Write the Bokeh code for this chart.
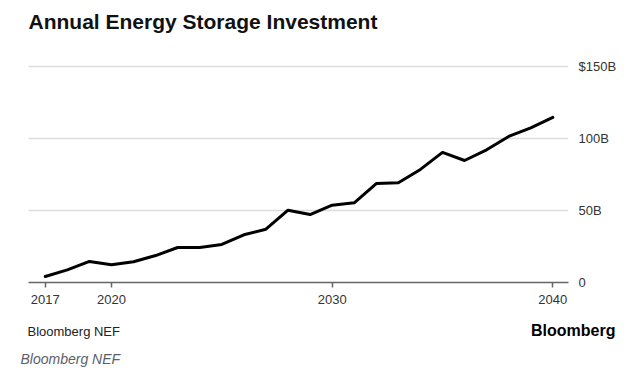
from bokeh.plotting import figure
from bokeh.models import Range1d, FixedTicker, Label, Plot
from bokeh.layouts import column
from bokeh.embed import file_html
from bokeh.resources import INLINE

years = list(range(2017, 2041))
investment = [4.2, 8.8, 14.6, 12.3, 14.4, 18.7, 24.3, 24.3, 26.4, 33.1, 37.0, 50.2,
              47.2, 53.7, 55.3, 68.7, 69.2, 78.5, 90.3, 84.7, 92.1, 101.4, 107.4, 114.6]
x_ticks = [2017, 2020, 2030, 2040]
y_ticks = [0, 50, 100, 150]
y_tick_labels = ["0", "50B", "100B", "$150B"]

title_text = "Annual Energy Storage Investment"
source_text = "Bloomberg NEF"
brand_text = "Bloomberg"

FONT = "Liberation Sans"
W = 624


def text_canvas(height):
    f = figure(width=W, height=height, output_backend="svg", toolbar_location=None,
               title=None, x_axis_location=None, y_axis_location=None,
               x_range=Range1d(0, W), y_range=Range1d(0, height),
               min_border=0, min_border_left=0, min_border_right=0,
               min_border_top=0, min_border_bottom=0)
    if "frame_align" in Plot.properties():
        f.frame_align = False
    f.outline_line_color = None
    f.xgrid.visible = False
    f.ygrid.visible = False
    f.background_fill_color = "white"
    f.border_fill_color = "white"
    return f


# header
head = text_canvas(40)
head.add_layout(Label(x=28, y=19.5, text=title_text, text_font=FONT,
                      text_font_size="21px", text_font_style="bold", text_color="#111111",
                      text_baseline="middle", text_align="left"))

# main chart
p = figure(width=W, height=274, output_backend="svg", toolbar_location=None,
           title=None, y_axis_location="right",
           x_range=Range1d(2016.24, 2040.71), y_range=Range1d(0, 155.5),
           min_border_left=28, min_border_right=56, min_border_top=18, min_border_bottom=32)
if "frame_align" in Plot.properties():
    p.frame_align = False
p.outline_line_color = None
p.background_fill_color = "white"
p.border_fill_color = "white"

p.line(years, investment, line_color="black", line_width=3, line_join="round", line_cap="round")

p.xgrid.visible = False
p.ygrid.ticker = FixedTicker(ticks=[t for t in y_ticks if t != 0])
p.ygrid.grid_line_color = "#dcdcdc"
p.ygrid.grid_line_width = 1.5

xa = p.xaxis[0]
xa.ticker = FixedTicker(ticks=x_ticks)
xa.axis_line_color = "#666666"
xa.axis_line_width = 1.5
xa.major_tick_line_color = "#666666"
xa.major_tick_line_width = 1.5
xa.major_tick_out = 5
xa.major_tick_in = 0
xa.minor_tick_line_color = None
xa.major_label_text_font = FONT
xa.major_label_text_font_size = "13px"
xa.major_label_text_color = "#333333"
xa.major_label_standoff = 7

ya = p.yaxis[0]
ya.ticker = FixedTicker(ticks=y_ticks)
ya.major_label_overrides = {t: s for t, s in zip(y_ticks, y_tick_labels)}
ya.axis_line_color = None
ya.major_tick_line_color = None
ya.minor_tick_line_color = None
ya.major_tick_out = 0
ya.major_tick_in = 0
ya.major_label_text_font = FONT
ya.major_label_text_font_size = "13px"
ya.major_label_text_color = "#333333"
ya.major_label_standoff = 10

# footer
foot = text_canvas(56)
foot.add_layout(Label(x=27, y=39, text=source_text, text_font=FONT,
                      text_font_size="13px", text_color="#222222",
                      text_baseline="middle", text_align="left"))
foot.add_layout(Label(x=615, y=40, text=brand_text, text_font=FONT,
                      text_font_size="16px", text_font_style="bold", text_color="#000000",
                      text_baseline="middle", text_align="right"))
foot.add_layout(Label(x=20, y=12, text=source_text, text_font=FONT,
                      text_font_size="14px", text_font_style="italic", text_color="#5a5f6b",
                      text_baseline="middle", text_align="left"))

layout = column(head, p, foot, spacing=0)
open("out.html", "w").write(file_html(layout, INLINE))
